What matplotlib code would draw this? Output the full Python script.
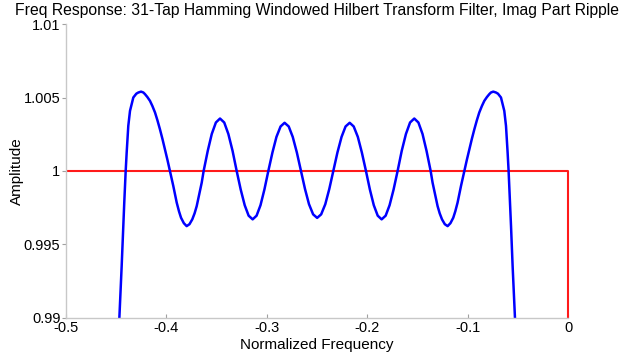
import matplotlib
matplotlib.use("Agg")
import matplotlib.pyplot as plt
from matplotlib.transforms import Bbox, TransformedBbox
import numpy as np

plt.rcParams['font.family'] = ['Liberation Sans', 'DejaVu Sans']

# imag part of the 31-tap hamming windowed hilbert filter
freq = [
    -0.4476, -0.4469, -0.4446, -0.4430, -0.4420, -0.4406, -0.4396, -0.4380,
    -0.4363, -0.4330, -0.4300, -0.4280, -0.4253, -0.4230, -0.4214, -0.4190,
    -0.4164, -0.4140, -0.4114, -0.4090, -0.4065, -0.4040, -0.4015, -0.3990,
    -0.3965, -0.3932, -0.3898, -0.3875, -0.3855, -0.3827, -0.3799, -0.3771,
    -0.3743, -0.3720, -0.3699, -0.3674, -0.3649, -0.3630, -0.3589, -0.3549,
    -0.3508, -0.3467, -0.3425, -0.3384, -0.3342, -0.3301, -0.3261, -0.3221,
    -0.3182, -0.3142, -0.3103, -0.3064, -0.3025, -0.2986, -0.2945, -0.2905,
    -0.2864, -0.2824, -0.2783, -0.2743, -0.2702, -0.2661, -0.2621, -0.2581,
    -0.2540, -0.2500, -0.2460, -0.2419, -0.2379, -0.2339, -0.2298, -0.2257,
    -0.2217, -0.2176, -0.2136, -0.2095, -0.2055, -0.2014, -0.1975, -0.1936,
    -0.1897, -0.1858, -0.1818, -0.1779, -0.1739, -0.1699, -0.1658, -0.1616,
    -0.1575, -0.1533, -0.1492, -0.1451, -0.1411, -0.1370, -0.1351, -0.1326,
    -0.1301, -0.1280, -0.1257, -0.1229, -0.1201, -0.1173, -0.1145, -0.1125,
    -0.1102, -0.1068, -0.1035, -0.1010, -0.0985, -0.0960, -0.0935, -0.0910,
    -0.0886, -0.0860, -0.0836, -0.0810, -0.0786, -0.0770, -0.0747, -0.0720,
    -0.0700, -0.0670, -0.0637, -0.0620, -0.0604, -0.0594, -0.0580, -0.0570,
    -0.0554, -0.0531, -0.0524,
]
amp = [
    0.98900, 0.99000, 0.99352, 0.99625, 0.99787, 1.00000, 1.00127, 1.00307,
    1.00409, 1.00500, 1.00526, 1.00534, 1.00540, 1.00534, 1.00523, 1.00503,
    1.00477, 1.00442, 1.00398, 1.00345, 1.00284, 1.00218, 1.00148, 1.00075,
    1.00000, 0.99898, 0.99785, 0.99725, 0.99682, 0.99645, 0.99625, 0.99638,
    0.99671, 0.99712, 0.99761, 0.99840, 0.99921, 1.00000, 1.00137, 1.00252,
    1.00330, 1.00357, 1.00330, 1.00252, 1.00137, 1.00000, 0.99874, 0.99767,
    0.99696, 0.99671, 0.99696, 0.99767, 0.99874, 1.00000, 1.00126, 1.00232,
    1.00303, 1.00328, 1.00303, 1.00232, 1.00126, 1.00000, 0.99878, 0.99774,
    0.99705, 0.99681, 0.99705, 0.99774, 0.99878, 1.00000, 1.00126, 1.00232,
    1.00303, 1.00328, 1.00303, 1.00232, 1.00126, 1.00000, 0.99874, 0.99767,
    0.99696, 0.99671, 0.99696, 0.99767, 0.99874, 1.00000, 1.00137, 1.00252,
    1.00330, 1.00357, 1.00330, 1.00252, 1.00137, 1.00000, 0.99921, 0.99840,
    0.99761, 0.99712, 0.99671, 0.99638, 0.99625, 0.99645, 0.99682, 0.99725,
    0.99785, 0.99898, 1.00000, 1.00075, 1.00148, 1.00218, 1.00284, 1.00345,
    1.00398, 1.00442, 1.00477, 1.00503, 1.00523, 1.00534, 1.00540, 1.00534,
    1.00526, 1.00500, 1.00409, 1.00307, 1.00127, 1.00000, 0.99787, 0.99625,
    0.99352, 0.99000, 0.98900,
]

# ideal response
ideal_freq = [-0.5, 0.0, 0.0]
ideal_amp = [1.0, 1.0, 0.0]

xticks = [-0.5, -0.4, -0.3, -0.2, -0.1, 0]
xticklabels = ['-0.5', '-0.4', '-0.3', '-0.2', '-0.1', '0']
yticks = [0.99, 0.995, 1.0, 1.005, 1.01]
yticklabels = ['0.99', '0.995', '1', '1.005', '1.01']

fig = plt.figure(figsize=(6.21, 3.6), dpi=100)
ax = fig.add_axes([0.1063, 0.1167, 0.8088, 0.8166])

ideal_line, = ax.plot(ideal_freq, ideal_amp, color='#ff1a1a', linewidth=1.5)
# let the vertical edge at f=0 show in full
ideal_line.set_clip_box(TransformedBbox(Bbox([[0, 0], [1.02, 1]]), ax.transAxes))
ax.plot(freq, amp, color='#0000ff', linewidth=1.8)

ax.set_xlim(-0.5, 0)
ax.set_ylim(0.99, 1.01)
ax.set_xticks(xticks)
ax.set_xticklabels(xticklabels)
ax.set_yticks(yticks)
ax.set_yticklabels(yticklabels)

for s in ['top', 'right']:
    ax.spines[s].set_visible(False)
for s in ['left', 'bottom']:
    ax.spines[s].set_color('#c8c8c8')
    ax.spines[s].set_linewidth(1.0)

ax.tick_params(axis='x', direction='in', length=3, color='#a0a0a0',
               labelsize=10.5, pad=2.5)
ax.tick_params(axis='y', direction='out', length=3, color='#a0a0a0',
               labelsize=10.5, pad=1)

ax.set_title('Freq Response: 31-Tap Hamming Windowed Hilbert Transform Filter, Imag Part Ripple',
             fontsize=11.3, pad=6.5)
ax.set_xlabel('Normalized Frequency', fontsize=11, labelpad=1.5)
ax.set_ylabel('Amplitude', fontsize=11, labelpad=0)

fig.savefig('out.png', dpi=100)
